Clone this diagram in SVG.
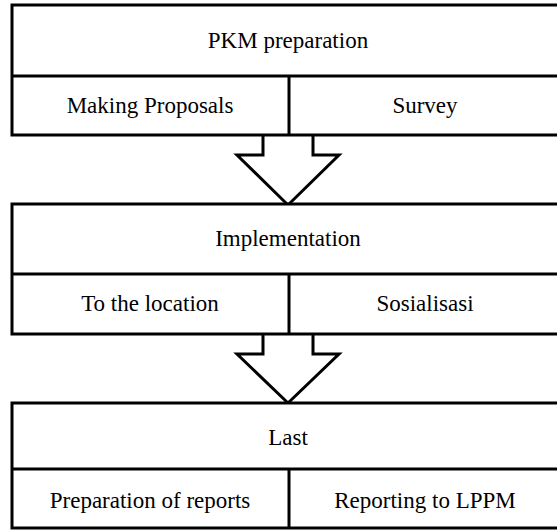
<svg xmlns="http://www.w3.org/2000/svg" width="557" height="531" viewBox="0 0 557 531">
<style>
.box{fill:#fff;stroke:#000;stroke-width:3}
.ln{stroke:#000;stroke-width:3;fill:none}
.arr{fill:#fff;stroke:#000;stroke-width:3;stroke-linejoin:miter}
.t{font-family:'Liberation Serif','Times New Roman',Times,Tinos,'DejaVu Serif','Noto Serif',serif;font-size:23px;fill:#000;text-anchor:middle}
</style>
<rect width="557" height="531" fill="#fff"/>
<g id="connectors">
<polyline class="arr" points="263,135 263,155 237,155 288,205 339,155 313,155 313,135"/>
<polyline class="arr" points="263,334 263,354 237,354 288,403 339,354 313,354 313,334"/>
</g>
<g id="node-pkm">
<rect class="box" x="12" y="5" width="549" height="130"/>
<line class="ln" x1="12" y1="76" x2="561" y2="76"/>
<line class="ln" x1="289" y1="76" x2="289" y2="135"/>
<text class="t" x="288" y="48">PKM preparation</text>
<text class="t" x="150" y="113">Making Proposals</text>
<text class="t" x="425" y="113">Survey</text>
</g>
<g id="node-impl">
<rect class="box" x="12" y="204" width="549" height="130"/>
<line class="ln" x1="12" y1="274" x2="561" y2="274"/>
<line class="ln" x1="289" y1="274" x2="289" y2="334"/>
<text class="t" x="288" y="246">Implementation</text>
<text class="t" x="150" y="311">To the location</text>
<text class="t" x="425" y="311">Sosialisasi</text>
</g>
<g id="node-last">
<rect class="box" x="12" y="403" width="549" height="125"/>
<line class="ln" x1="12" y1="469" x2="561" y2="469"/>
<line class="ln" x1="289" y1="469" x2="289" y2="528"/>
<text class="t" x="288" y="445">Last</text>
<text class="t" x="150" y="508">Preparation of reports</text>
<text class="t" x="425" y="508">Reporting to LPPM</text>
</g>
</svg>
